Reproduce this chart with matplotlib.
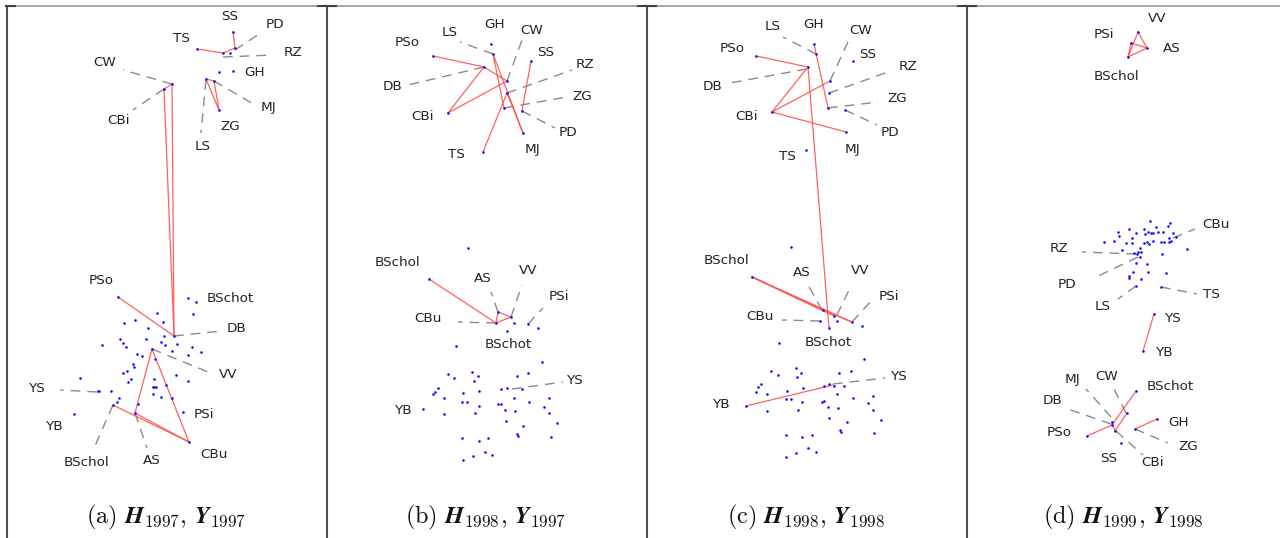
import matplotlib
matplotlib.use("Agg")
import matplotlib.pyplot as plt
from matplotlib.lines import Line2D

W, H = 1280, 538

# ---------------- Panel (a) ----------------
a_dots = [(197,49),(223,53),(230,53),(235,48),(233,32),(219,72),(233,71),(206,79),(214,81),(219,110),(172,84),(164,89),
          (118,297),(174,336),(152,349),(135,413),(189,442),
          (188,298),(196,302),(193,314),(157,313),(163,322),(135,320),(124,323),(148,328),(164,336),(146,339),(161,342),
          (165,345),(177,344),(192,347),(201,352),(188,355),(172,351),(120,339),(123,343),(126,347),(102,345),(137,354),
          (142,356),(155,359),(133,364),(134,367),(127,371),(123,373),(131,379),(128,382),(176,375),(188,381),(154,379),
          (154,387),(156,387),(153,387),(166,385),(153,394),(161,397),(172,398),(80,378),(98,391),(99,391),(111,391),
          (119,398),(117,402),(113,405),(138,404),(183,412),(74,414)]
a_edges = [((233,32),(235,48)),((235,48),(223,53)),((223,53),(197,49)),
           ((206,79),(214,81)),((206,79),(219,110)),((214,81),(219,110)),
           ((172,84),(164,89)),((172,84),(174,336)),((164,89),(174,336)),
           ((118,297),(174,336)),
           ((152,349),(135,413)),((152,349),(189,442)),((135,413),(189,442)),((113,405),(189,442))]
a_labels = [("SS",230,17),("PD",275,24),("TS",181,38),("RZ",293,53),("GH",255,73),("CW",105,63),("MJ",268,107),
            ("ZG",230,127),("LS",203,146),("CBi",119,121),("PSo",101,280),("BSchot",230,299),("DB",237,328),
            ("VV",228,375),("YS",37,388),("PSi",204,414),("YB",55,427),("BSchol",86,463),("AS",152,460),("CBu",214,455)]
a_leaders = [((235,50),(262,32)),((223,57),(273,55)),((172,84),(123,70)),((214,81),(255,105)),((206,80),(201,133)),
             ((164,89),(133,110)),((174,336),(222,331)),((152,349),(213,374)),((97,392),(60,390)),
             ((113,405),(94,448)),((135,413),(147,448))]

# ---------------- Panel (b) ----------------
b_dots = [(491,44),(493,54),(433,56),(484,67),(507,81),(531,61),(507,93),(504,108),(522,111),(523,133),(483,152),(448,113),
          (468,248),(429,279),(498,312),(511,317),(528,324),(496,323),(514,323),(538,328),(507,331),(456,346),(542,362),(423,409),
          (447.7,374),(454.3,378.3),(472.3,371.7),(477.7,376),(474,381),(516.7,376),(527.7,373.3),(437.7,388.3),(435,391.7),
          (432.7,394.3),(444,397.7),(463.3,393.3),(479.3,390.7),(500.7,389.3),(506.7,387.7),(521.7,389),(514,397.7),
          (529.3,401.7),(549.3,398.3),(462.3,402.3),(467.3,402.3),(479,406),(475,413.3),(498.3,404.3),(500.7,404),
          (505,410),(515,411),(544.3,406.7),(549.3,413.3),(444,414.3),(505.7,421),(523.3,425.7),(557.3,423.3),
          (516.7,434.3),(517.7,435.7),(550.7,436.7),(462.3,438.3),(479.3,440.7),(488.3,438.3),(485,451.7),(492.3,455),
          (472.7,456),(462.7,460)]
b_edges = [((433,56),(484,67)),((484,67),(507,81)),((484,67),(448,113)),((448,113),(507,81)),
           ((493,54),(523,133)),((493,54),(504,108)),((507,93),(523,133)),((507,93),(483,152)),((531,61),(522,111)),
           ((429,279),(496,323)),((496,323),(498,312)),((498,312),(511,317)),((496,323),(511,317))]
b_labels = [("GH",495,25),("LS",450,32),("CW",532,31),("PSo",407,42),("SS",546,53),("RZ",585,65),("DB",392,87),
            ("ZG",582,96),("CBi",422,116),("PD",568,132),("MJ",532,150),("TS",456,155),
            ("BSchol",397,263),("AS",483,278),("VV",528,270),("PSi",559,297),("CBu",428,319),("BSchot",508,344),
            ("YS",575,380),("YB",404,410)]
b_leaders = [((493,54),(460,42)),((507,81),(522,40)),((507,93),(572,70)),((484,67),(408,85)),((504,108),(567,97)),
             ((522,111),(555,128)),((498,312),(491,292)),((511,317),(522,285)),((528,324),(543,308)),
             ((496,323),(458,322)),((512,389),(563,382))]

# ---------------- Panel (c) ----------------
c_dots = [(814,44),(816,54),(756,56),(808,67),(830,81),(853,61),(829,93),(828,108),(845,110),(846,132),(806,150),(772,112),
          (791,247),(752,277),(852,322),(820,321),(829,328),(837,321),(862,326),(834,316),(823,310),(779,343),(864,359),(746,406),
          (771,371),(777.7,375),(795.7,368.3),(800.7,373.3),(797.3,377.3),(839.3,373.3),(851,370.7),(760.7,384.3),
          (758.3,387.3),(756,391.7),(766.7,394.3),(786.7,390.7),(802.7,387.7),(824,386),(829.3,384.3),(834,385.7),
          (844.3,386),(837.3,394.3),(852.7,398.3),(872.7,395.7),(785.7,399.3),(790.7,399.3),(802.3,402.3),(798.3,410),
          (821.7,401.7),(824,401),(828.3,406.7),(838.3,408.3),(867.7,403.3),(872.7,410),(767.3,411),(829.3,417.7),
          (846.7,421.7),(881,420),(840,430),(841,431.7),(874,432.7),(785.7,435),(802.3,437.3),(811.7,435),(808.3,448.3),
          (815.7,451.7),(796,452.7),(786,456.7)]
c_edges = [((756,56),(808,67)),((808,67),(772,112)),((772,112),(830,81)),((772,112),(846,132)),((814,44),(828,108)),
           ((808,67),(829,328)),((752,277),(852,322)),((752,277),(823,310)),((823,310),(852,322)),((752,277),(834,316)),
           ((746,406),(833,385))]
c_labels = [("GH",814,24),("LS",773,27),("PSo",732,48),("CW",861,31),("SS",868,54),("RZ",908,66),("DB",712,87),
            ("ZG",897,98),("CBi",747,117),("PD",890,132),("MJ",852,149),("TS",787,157),
            ("BSchol",726,260),("AS",802,273),("VV",860,270),("PSi",889,296),("CBu",760,316),("BSchot",828,342),
            ("YS",899,376),("YB",722,404)]
c_leaders = [((816,54),(783,37)),((830,81),(848,42)),((829,93),(888,72)),((807,69),(730,83)),((828,108),(878,102)),
             ((845,110),(877,125)),((822,310),(807,283)),((837,315),(851,286)),((852,322),(873,299)),
             ((820,321),(782,320)),((833,384),(885,378))]

# ---------------- Panel (d) ----------------
d_dots = [(1138,32),(1131,43),(1147,48),(1128,57),
          (1154,314),(1143,351),(1136,391),(1087,436),(1157,419),(1121,443),(1112,422),(1112,425),(1115,431),(1127,413),(1135,429),
          (1150,220.7),(1170,223.3),(1168.3,226),(1156,227.3),(1144,229.3),(1147.7,231.7),(1118.3,232.3),(1129.3,229.3),
          (1135.7,233.3),(1145,234),(1150.7,233.3),(1153.3,232.7),(1158.3,232.3),(1163.3,232.3),(1173.3,233.3),
          (1175.7,237.3),(1169.3,238.3),(1131.7,238.3),(1119,236),(1104.3,241.7),(1114,241),(1126,243.3),(1131.7,243.3),
          (1144.3,242.7),(1146.7,242.3),(1149.3,244),(1152.7,241),(1161,241.7),(1164.3,241.7),(1169.3,241.7),
          (1170.7,240.7),(1140,248.3),(1138.3,251.7),(1140.7,251.7),(1134.3,253.3),(1136.7,254),(1140,256.7),
          (1121.7,250),(1186.7,249.3),(1161.7,254),(1136,263.3),(1146.7,264),(1133.3,272.3),(1147.7,272.3),(1166,273.3),
          (1129,276),(1129.3,277.7),(1141,279.3),(1135.7,286),(1160.7,287.3)]
d_edges = [((1138,32),(1128,57)),((1138,32),(1147,48)),((1131,43),(1147,48)),((1128,57),(1147,48)),((1131,43),(1128,57)),
           ((1154,314),(1143,351)),((1087,436),(1112,425)),((1112,425),(1136,391)),((1112,422),(1115,431)),
           ((1115,431),(1127,413)),((1157,419),(1135,429))]
d_labels = [("VV",1157,19),("PSi",1104,35),("AS",1172,48),("BSchol",1116,76),
            ("CBu",1216,224),("RZ",1059,248),("PD",1067,285),("LS",1103,307),("TS",1211,295),("YS",1173,319),
            ("YB",1165,353),("MJ",1072,379),("CW",1107,377),("BSchot",1170,387),("DB",1053,401),("PSo",1059,433),
            ("GH",1179,422),("ZG",1188,447),("SS",1109,458),("CBi",1153,463)]
d_leaders = [((1173,238),(1195,229)),((1136,254),(1082,252)),((1138,257),(1094,278)),((1136,286),(1118,299)),
             ((1161,287),(1197,294)),((1111,417),(1086,389)),((1126,413),(1113,387)),((1111,424),(1068,409)),
             ((1135,429),(1168,443)),((1116,431),(1143,455))]

captions = [r"$\mathrm{(a)}\ \mathbfit{H}_{1997},\,\mathbfit{Y}_{1997}$",
            r"$\mathrm{(b)}\ \mathbfit{H}_{1998},\,\mathbfit{Y}_{1997}$",
            r"$\mathrm{(c)}\ \mathbfit{H}_{1998},\,\mathbfit{Y}_{1998}$",
            r"$\mathrm{(d)}\ \mathbfit{H}_{1999},\,\mathbfit{Y}_{1998}$"]
caption_x = [166, 486, 806, 1123]

panel_x = [(7, 326), (327, 646), (647, 966), (967, 1280)]
panels = [(a_dots, a_edges, a_labels, a_leaders), (b_dots, b_edges, b_labels, b_leaders),
          (c_dots, c_edges, c_labels, c_leaders), (d_dots, d_edges, d_labels, d_leaders)]

fig = plt.figure(figsize=(W/100, H/100), dpi=100)
fig.patch.set_facecolor("white")

for (x0, x1), (dots, edges, labels, leaders), cap, cx in zip(panel_x, panels, captions, caption_x):
    ax = fig.add_axes([x0/W, 0, (x1-x0)/W, 1])
    ax.set_xlim(x0, x1)
    ax.set_ylim(H, 0)
    ax.axis("off")
    for (p, q) in leaders:
        ax.plot([p[0], q[0]], [p[1], q[1]], color="#8a8a8a", lw=1.0, dashes=(7, 5), zorder=1)
    for (p, q) in edges:
        ax.plot([p[0], q[0]], [p[1], q[1]], color="#ff5050", lw=0.9, alpha=0.9, zorder=2)
    ax.scatter([d[0] for d in dots], [d[1] for d in dots], s=3.5, color="#1010ff", lw=0, zorder=3)
    for name, tx, ty in labels:
        ax.text(tx, ty, name, ha="center", va="center", fontsize=9.7, color="#222222", family="DejaVu Sans")
    ax.text(cx, 517, cap, ha="center", va="center", fontsize=17.5, math_fontfamily="cm", color="#111111")

# frame lines
fig.add_artist(Line2D([6/W, 1], [1 - 5.5/H, 1 - 5.5/H], color="#9a9a9a", lw=1.2))
for xv in [6.5, 326.5, 646.5, 966.5]:
    fig.add_artist(Line2D([xv/W, xv/W], [0, 1 - 5.5/H], color="#505050", lw=1.5))
for xv in [326.5, 646.5, 966.5]:
    fig.add_artist(Line2D([(xv-9)/W, (xv+9)/W], [1 - 5.5/H, 1 - 5.5/H], color="#404040", lw=1.5))
fig.add_artist(Line2D([6/W, 15/W], [1 - 5.5/H, 1 - 5.5/H], color="#404040", lw=1.5))

fig.savefig("out.png", dpi=100)
